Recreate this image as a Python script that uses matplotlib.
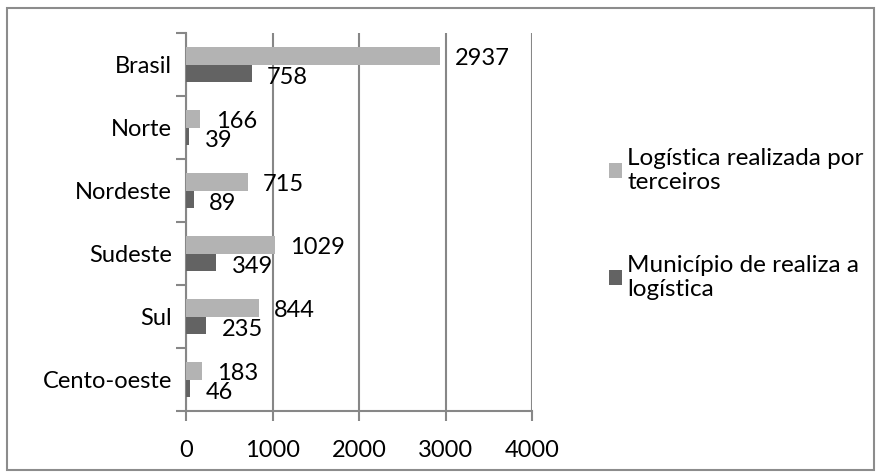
import numpy as np
import matplotlib.pyplot as plt
from matplotlib.patches import Rectangle

# regiões e valores
regioes = ['Brasil', 'Norte', 'Nordeste', 'Sudeste', 'Sul', 'Cento-oeste']
terceiros = [2937, 166, 715, 1029, 844, 183]
municipio = [758, 39, 89, 349, 235, 46]
nomes_series = ['Logística realizada por\nterceiros', 'Município de realiza a\nlogística']
ticks_x = [0, 1000, 2000, 3000, 4000]

cor_clara = '#b3b3b3'
cor_escura = '#636363'
cor_grade = '#878787'
fs = 17

plt.rcParams['font.family'] = ['Lato', 'DejaVu Sans']
fig = plt.figure(figsize=(8.79, 4.73), dpi=100)
ax = fig.add_axes([186 / 879, 1 - 411 / 473, (532 - 186) / 879, (411 - 33) / 473])

y = np.arange(len(regioes))
h = 0.28
b1 = ax.barh(y - h / 2, terceiros, height=h, color=cor_clara, zorder=3, label=nomes_series[0])
b2 = ax.barh(y + h / 2, municipio, height=h, color=cor_escura, zorder=3, label=nomes_series[1])

# rótulos de valor
for yi, v in zip(y, terceiros):
    ax.annotate(str(v), (v, yi - h / 2), xytext=(11, -2), textcoords='offset points',
                ha='left', va='center', fontsize=fs, color='black', zorder=4)
for yi, v in zip(y, municipio):
    ax.annotate(str(v), (v, yi + h / 2), xytext=(11, -3), textcoords='offset points',
                ha='left', va='center', fontsize=fs, color='black', zorder=4)

ax.set_xlim(0, 4000)
ax.set_ylim(len(regioes) - 0.5, -0.5)
ax.set_xticks(ticks_x)
ax.set_xticklabels([str(t) for t in ticks_x], fontsize=fs)
ax.set_yticks(y)
ax.set_yticklabels(regioes, fontsize=fs)
ax.set_yticks(np.arange(len(regioes) + 1) - 0.5, minor=True)
ax.tick_params(axis='y', which='major', length=0, pad=10)
ax.tick_params(axis='y', which='minor', length=7, width=1.5, color=cor_grade)
ax.tick_params(axis='x', length=7, width=1.5, color=cor_grade, pad=14)
ax.xaxis.grid(True, color=cor_grade, linewidth=1.5, zorder=0)
for s in ['top', 'right']:
    ax.spines[s].set_visible(False)
for s in ['left', 'bottom']:
    ax.spines[s].set_color(cor_grade)
    ax.spines[s].set_linewidth(1.5)

fig.legend(handles=[b1, b2], loc='center left', bbox_to_anchor=(587 / 879, 1 - 224 / 473),
           frameon=False, fontsize=17.5, handlelength=0.55, handleheight=0.55,
           handletextpad=0.2, labelspacing=2.55)

# moldura externa
fig.patches.append(Rectangle((7 / 879, 3 / 473), 867 / 879, 462 / 473, transform=fig.transFigure,
                             fill=False, edgecolor='#8c8c8c', linewidth=1.5))

fig.savefig('out.png', dpi=100)
